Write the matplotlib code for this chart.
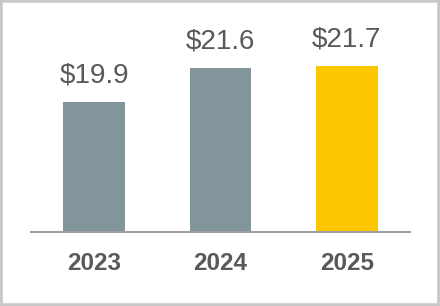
import matplotlib
matplotlib.use("Agg")
import matplotlib.pyplot as plt
from matplotlib.patches import Rectangle

years = ["2023", "2024", "2025"]
values = [19.9, 21.6, 21.7]
labels = ["$19.9", "$21.6", "$21.7"]
colors = ["#82959a", "#82959a", "#fcc600"]

plt.rcParams['font.family'] = ['Liberation Sans', 'DejaVu Sans']

fig = plt.figure(figsize=(4.4, 3.06), dpi=100)
ax = fig.add_axes([31/440, (306-232)/306, 379/440, 212/306])
ax.bar(range(len(years)), values, width=0.49, color=colors, zorder=2)
ax.set_xlim(-0.5, 2.5)
ax.set_ylim(13.4, 24.0)
for i, (v, t) in enumerate(zip(values, labels)):
    ax.annotate(t.replace("$", r"\$"), (i, v), xytext=(0, 9.5), textcoords="offset points",
                ha="center", va="bottom", fontsize=20, color="#595959")
ax.set_xticks(range(len(years)))
ax.set_xticklabels(years, fontsize=17.5, fontweight="bold", color="#595959")
ax.tick_params(axis="x", length=0, pad=14.5)
ax.set_yticks([])
for s in ["top", "left", "right"]:
    ax.spines[s].set_visible(False)
ax.spines["bottom"].set_color("#a0a0a0")
ax.spines["bottom"].set_linewidth(1.5)
ax.spines["bottom"].set_zorder(3)

fig.patches.append(Rectangle((0, 0), 1, 1, transform=fig.transFigure, fill=False,
                             edgecolor="#c8c8c8", linewidth=4, zorder=10))
fig.savefig("out.png", dpi=100)
